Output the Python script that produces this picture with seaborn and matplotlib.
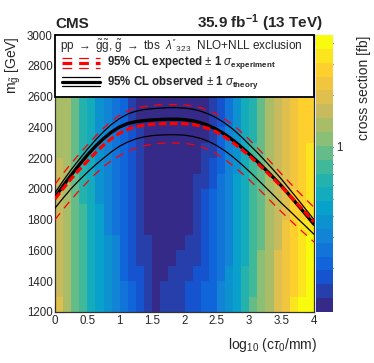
import matplotlib
matplotlib.use("Agg")
import matplotlib.pyplot as plt
import seaborn as sns
import numpy as np
from matplotlib.colors import LinearSegmentedColormap, BoundaryNorm
from matplotlib.patches import Rectangle
from matplotlib.ticker import MultipleLocator, FormatStrFormatter, FixedLocator, NullFormatter

# ── data ─────────────────────────────────────────────────────
ctau_edges = np.linspace(0, 4, 33)          # log10(ctau/mm) bin edges
mass_edges = np.arange(1200, 3001, 100)     # gluino mass bin edges [GeV]

# cross section upper limit [fb], rows = mass bins from 1200 up
xsec = np.array([
    [1.8,1.35,1.0,0.75,0.55,0.45,0.36,0.30,0.24,0.20,0.18,0.15,0.13,0.15,0.155,0.16,0.17,0.18,0.20,0.23,0.28,0.36,0.47,0.62,0.85,1.1,1.45,1.9,2.5,3.1,3.7,4.3],
    [1.75,1.35,1.0,0.75,0.55,0.45,0.36,0.29,0.24,0.20,0.17,0.14,0.13,0.14,0.15,0.16,0.17,0.18,0.20,0.23,0.28,0.35,0.46,0.60,0.82,1.1,1.4,1.85,2.4,3.0,3.6,4.1],
    [1.7,1.3,1.0,0.75,0.55,0.44,0.35,0.29,0.23,0.19,0.17,0.14,0.13,0.13,0.14,0.15,0.16,0.17,0.19,0.22,0.27,0.34,0.45,0.59,0.80,1.05,1.4,1.8,2.35,2.9,3.5,4.0],
    [1.65,1.3,1.0,0.74,0.54,0.43,0.35,0.28,0.23,0.19,0.16,0.14,0.125,0.13,0.13,0.14,0.15,0.16,0.18,0.21,0.26,0.33,0.44,0.58,0.78,1.05,1.35,1.8,2.3,2.8,3.4,3.8],
    [1.6,1.3,0.98,0.73,0.53,0.42,0.34,0.28,0.23,0.19,0.16,0.135,0.12,0.125,0.13,0.13,0.14,0.16,0.18,0.21,0.26,0.33,0.43,0.57,0.77,1.0,1.35,1.75,2.2,2.7,3.2,3.7],
    [1.6,1.3,0.97,0.72,0.52,0.41,0.33,0.27,0.22,0.19,0.16,0.13,0.12,0.12,0.125,0.125,0.13,0.15,0.17,0.20,0.25,0.32,0.42,0.56,0.76,1.0,1.3,1.7,2.2,2.7,3.1,3.6],
    [1.55,1.25,0.96,0.71,0.51,0.41,0.33,0.27,0.22,0.19,0.16,0.13,0.12,0.12,0.12,0.12,0.125,0.14,0.17,0.20,0.25,0.32,0.42,0.55,0.75,1.0,1.3,1.7,2.1,2.6,3.0,3.5],
    [1.5,1.25,0.95,0.70,0.50,0.40,0.32,0.27,0.22,0.19,0.16,0.13,0.12,0.12,0.12,0.12,0.12,0.14,0.17,0.20,0.25,0.32,0.42,0.55,0.75,1.0,1.3,1.7,2.1,2.6,3.0,3.4],
    [1.5,1.25,0.95,0.70,0.50,0.40,0.32,0.27,0.22,0.18,0.155,0.13,0.12,0.12,0.12,0.12,0.12,0.135,0.16,0.19,0.24,0.31,0.41,0.54,0.74,0.98,1.3,1.65,2.1,2.5,2.9,3.3],
    [1.5,1.25,0.95,0.70,0.50,0.40,0.32,0.26,0.21,0.18,0.15,0.13,0.12,0.12,0.12,0.12,0.12,0.13,0.15,0.18,0.23,0.30,0.40,0.53,0.72,0.96,1.28,1.65,2.05,2.5,2.85,3.2],
    [1.45,1.25,0.95,0.70,0.50,0.40,0.32,0.26,0.21,0.17,0.14,0.125,0.12,0.12,0.12,0.12,0.12,0.125,0.135,0.16,0.21,0.29,0.38,0.52,0.71,0.95,1.27,1.6,2.0,2.45,2.8,3.1],
    [1.45,1.25,0.95,0.70,0.50,0.40,0.32,0.26,0.21,0.165,0.135,0.12,0.12,0.12,0.12,0.12,0.12,0.12,0.13,0.15,0.20,0.28,0.37,0.51,0.70,0.95,1.25,1.6,2.0,2.4,2.75,3.0],
    [1.45,1.25,0.95,0.70,0.50,0.40,0.32,0.26,0.20,0.16,0.13,0.12,0.12,0.12,0.12,0.12,0.12,0.12,0.125,0.14,0.19,0.27,0.36,0.50,0.70,0.95,1.25,1.6,2.0,2.4,2.7,3.0],
    [1.45,1.25,0.95,0.70,0.50,0.40,0.32,0.26,0.20,0.155,0.13,0.12,0.12,0.12,0.12,0.12,0.12,0.12,0.125,0.14,0.19,0.27,0.36,0.50,0.70,0.95,1.25,1.6,2.0,2.4,2.7,3.0],
    [1.45,1.25,0.95,0.70,0.50,0.40,0.32,0.26,0.20,0.155,0.13,0.12,0.12,0.12,0.12,0.12,0.12,0.12,0.125,0.14,0.19,0.27,0.36,0.50,0.70,0.95,1.25,1.6,2.0,2.4,2.7,3.0],
    [1.45,1.25,0.95,0.70,0.50,0.40,0.32,0.26,0.20,0.155,0.13,0.12,0.12,0.12,0.12,0.12,0.12,0.12,0.125,0.14,0.19,0.27,0.36,0.50,0.70,0.95,1.25,1.6,2.0,2.4,2.7,3.0],
    [1.45,1.25,0.95,0.70,0.50,0.40,0.32,0.26,0.20,0.155,0.13,0.12,0.12,0.12,0.12,0.12,0.12,0.12,0.125,0.14,0.19,0.27,0.36,0.50,0.70,0.95,1.25,1.6,2.0,2.4,2.7,3.0],
    [1.45,1.25,0.95,0.70,0.50,0.40,0.32,0.26,0.20,0.155,0.13,0.12,0.12,0.12,0.12,0.12,0.12,0.12,0.125,0.14,0.19,0.27,0.36,0.50,0.70,0.95,1.25,1.6,2.0,2.4,2.7,3.0],
])

# exclusion contours, mass [GeV] vs log10(ctau/mm)
contour_ctau = [0, 0.125, 0.25, 0.375, 0.5, 0.625, 0.75, 0.875, 1.0, 1.125, 1.25, 1.375, 1.5, 1.625, 1.75, 1.875,
                2.0, 2.125, 2.25, 2.375, 2.5, 2.625, 2.75, 2.875, 3.0, 3.125, 3.25, 3.375, 3.5, 3.625, 3.75, 3.875, 4.0]
obs_mass      = [1945, 2020, 2090, 2157, 2220, 2277, 2327, 2370, 2403, 2425, 2437, 2444, 2448, 2451, 2453, 2453,
                 2450, 2443, 2430, 2411, 2386, 2354, 2316, 2273, 2226, 2178, 2126, 2073, 2018, 1957, 1895, 1833, 1770]
obs_up_mass   = [1975, 2052, 2125, 2192, 2257, 2318, 2372, 2420, 2458, 2487, 2505, 2515, 2521, 2525, 2528, 2528,
                 2525, 2518, 2505, 2486, 2460, 2427, 2387, 2340, 2288, 2236, 2180, 2122, 2062, 1997, 1932, 1866, 1800]
obs_down_mass = [1875, 1940, 2002, 2057, 2108, 2156, 2200, 2242, 2278, 2305, 2325, 2338, 2346, 2350, 2352, 2352,
                 2349, 2341, 2328, 2308, 2281, 2247, 2207, 2162, 2114, 2063, 2011, 1959, 1906, 1857, 1806, 1756, 1705]
exp_mass      = [1935, 2002, 2066, 2125, 2180, 2235, 2285, 2328, 2363, 2388, 2405, 2414, 2420, 2423, 2425, 2425,
                 2424, 2419, 2408, 2391, 2368, 2337, 2300, 2259, 2215, 2167, 2117, 2066, 2013, 1957, 1900, 1843, 1785]
exp_up_mass   = [2030, 2100, 2165, 2227, 2285, 2342, 2395, 2442, 2480, 2507, 2525, 2535, 2542, 2546, 2548, 2548,
                 2545, 2538, 2527, 2509, 2485, 2453, 2415, 2370, 2320, 2267, 2211, 2154, 2096, 2040, 1985, 1932, 1880]
exp_down_mass = [1800, 1867, 1930, 1990, 2045, 2097, 2145, 2185, 2217, 2244, 2265, 2280, 2290, 2296, 2298, 2298,
                 2296, 2288, 2275, 2254, 2226, 2191, 2150, 2106, 2059, 2008, 1955, 1902, 1850, 1800, 1750, 1702, 1655]

Z_MIN, Z_MAX, N_LEVELS = 0.111, 4.44, 20

# ROOT kBird palette
bird_r = [0.2082, 0.0592, 0.0780, 0.0232, 0.1802, 0.5301, 0.8186, 0.9956, 0.9764]
bird_g = [0.1664, 0.3599, 0.5041, 0.6419, 0.7178, 0.7492, 0.7328, 0.7862, 0.9832]
bird_b = [0.5293, 0.8684, 0.8385, 0.7914, 0.6425, 0.4662, 0.3499, 0.1968, 0.0539]
cmap = LinearSegmentedColormap.from_list("bird", list(zip(bird_r, bird_g, bird_b)), N=256)

# ── style ────────────────────────────────────────────────────
sns.set_style("ticks")
plt.rcParams["font.family"] = ["Liberation Sans", "DejaVu Sans"]
plt.rcParams["mathtext.fontset"] = "custom"
plt.rcParams["mathtext.rm"] = "Liberation Sans"
plt.rcParams["mathtext.it"] = "Liberation Sans:italic"
plt.rcParams["mathtext.bf"] = "Liberation Sans:bold"
plt.rcParams["lines.scale_dashes"] = False

fig = plt.figure(figsize=(3.74, 3.63), dpi=100)
ax = fig.add_axes([55/374, 1-312/363, 259/374, 277/363])
cax = fig.add_axes([316/374, 1-312/363, 17/374, 277/363])

levels = np.geomspace(Z_MIN, Z_MAX, N_LEVELS + 1)
norm = BoundaryNorm(levels, cmap.N)
ax.pcolormesh(ctau_edges, mass_edges, xsec, cmap=cmap, norm=norm, zorder=1)

RED = "#ff0000"
thin_dash = (0, (6, 4.5))
thick_dash = (0, (5.5, 2.5))
for m, lw in [(obs_up_mass, 0.9), (obs_down_mass, 0.9), (obs_mass, 2.4)]:
    sns.lineplot(x=contour_ctau, y=m, ax=ax, color="black", lw=lw, zorder=3)
for m, lw, ls in [(exp_up_mass, 0.9, thin_dash), (exp_down_mass, 0.9, thin_dash), (exp_mass, 2.3, thick_dash)]:
    sns.lineplot(x=contour_ctau, y=m, ax=ax, color=RED, lw=lw, linestyle=ls, zorder=4)

ax.set_xlim(0, 4)
ax.set_ylim(1200, 3000)
ax.set_xlabel(""); ax.set_ylabel("")
ax.xaxis.set_major_locator(MultipleLocator(0.5))
ax.xaxis.set_minor_locator(MultipleLocator(0.1))
ax.xaxis.set_major_formatter(FormatStrFormatter("%g"))
ax.yaxis.set_major_locator(MultipleLocator(200))
ax.yaxis.set_minor_locator(MultipleLocator(50))
ax.tick_params(which="both", direction="in", top=True, right=True, labelsize=8.3, color="#333333")
ax.tick_params(which="major", length=7, width=0.8)
ax.tick_params(which="minor", length=3.5, width=0.8)
ax.tick_params(axis="y", pad=1.5)
ax.tick_params(axis="x", pad=2.5)
for s in ax.spines.values():
    s.set_linewidth(0.9); s.set_color("#333333")

# ── legend box ───────────────────────────────────────────────
ax.add_patch(Rectangle((0, 0.776), 1, 0.224, transform=ax.transAxes, facecolor="white",
                       edgecolor="black", lw=1.3, zorder=10, clip_on=False))
ax.text(0.019, 0.962, r"pp $\rightarrow$ $\tilde{\mathrm{g}}\tilde{\mathrm{g}}$, $\tilde{\mathrm{g}}$ $\rightarrow$ tbs  $\lambda''_{323}$  NLO+NLL exclusion",
        transform=ax.transAxes, fontsize=8.5, va="center", ha="left", zorder=11)
lx = [0.027, 0.174]
for yy, lw in [(0.918, 0.9), (0.900, 2.3), (0.882, 0.9)]:
    ax.plot(lx, [yy, yy], transform=ax.transAxes, color=RED, lw=lw, linestyle=(0, (7, 5)), zorder=11, clip_on=False)
for yy, lw in [(0.849, 0.9), (0.832, 2.3), (0.815, 0.9)]:
    ax.plot(lx, [yy, yy], transform=ax.transAxes, color="black", lw=lw, zorder=11, clip_on=False)
ax.text(0.2, 0.900, r"95% CL expected $\pm$ 1 $\sigma_{\mathbf{experiment}}$", transform=ax.transAxes,
        fontsize=8.3, fontweight="bold", va="center", ha="left", zorder=11)
ax.text(0.2, 0.828, r"95% CL observed $\pm$ 1 $\sigma_{\mathbf{theory}}$", transform=ax.transAxes,
        fontsize=8.3, fontweight="bold", va="center", ha="left", zorder=11)

# ── colour bar (log z) ───────────────────────────────────────
cax.pcolormesh([0, 1], levels, np.sqrt(levels[:-1] * levels[1:])[:, None], cmap=cmap, norm=norm)
cax.set_yscale("log")
cax.set_ylim(Z_MIN, Z_MAX)
cax.set_xlim(0, 1)
cax.set_xticks([])
cax.yaxis.tick_right()
cax.yaxis.set_major_locator(FixedLocator([1]))
cax.yaxis.set_major_formatter(FormatStrFormatter("%g"))
cax.yaxis.set_minor_locator(FixedLocator([0.2, 0.3, 0.4, 0.5, 0.6, 0.7, 0.8, 0.9, 2, 3, 4]))
cax.yaxis.set_minor_formatter(NullFormatter())
cax.tick_params(which="both", direction="in", labelsize=8.3, color="#333333", pad=2)
cax.tick_params(which="major", length=6, width=0.8)
cax.tick_params(which="minor", length=3.5, width=0.8)
for s in cax.spines.values():
    s.set_visible(False)

# ── titles and axis labels ───────────────────────────────────
fig.text(55/374, 1-28/363, "CMS", fontsize=11, fontweight="bold", ha="left", va="baseline")
fig.text(323/374, 1-28/363, r"35.9 fb$^{\mathbf{-1}}$ (13 TeV)", fontsize=11, fontweight="bold", ha="right", va="baseline")
fig.text(13/374, 1-36/363, r"m$_{\tilde{\mathrm{g}}}$ [GeV]", fontsize=10, rotation=90, ha="center", va="top")
fig.text(317/374, 18/363, r"log$_{10}$ (c$\tau_{0}$/mm)", fontsize=10, ha="right", va="center")
fig.text(364/374, 1-36/363, "cross section [fb]", fontsize=10, rotation=90, ha="center", va="top")

plt.savefig("out.png", dpi=100)
plt.close()
